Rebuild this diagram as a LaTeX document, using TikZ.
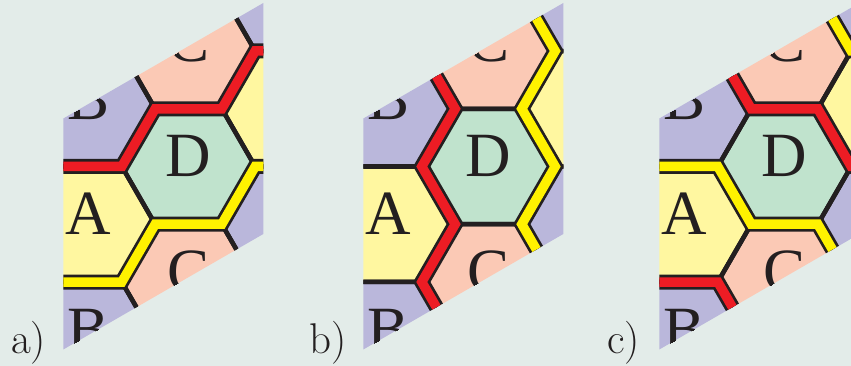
\documentclass[tikz,border=0pt]{standalone}
\usepackage{fontspec}
\newfontfamily\cellfont{Liberation Serif}
\usepackage{tikz}

\definecolor{bgcol}{HTML}{E3ECE9}
\definecolor{cellA}{HTML}{FFF7A0}
\definecolor{cellB}{HTML}{BAB7DB}
\definecolor{cellC}{HTML}{FBC9B5}
\definecolor{cellD}{HTML}{C0E3CD}
\definecolor{bandred}{HTML}{ED1C24}
\definecolor{bandyel}{HTML}{FFF200}
\definecolor{edgeblack}{HTML}{231F20}

\tikzset{
  hexedge/.style={draw=edgeblack, line width=4.5pt, line join=miter},
  cellname/.style={anchor=base, inner sep=0pt, text=edgeblack,
                   font=\cellfont\fontsize{63}{63}\selectfont},
  band/.style={draw=edgeblack, line width=2.75pt, double distance=9.5pt,
               line join=miter},
  tag/.style={anchor=base west, inner sep=0pt, text=edgeblack,
              font=\fontsize{43}{43}\selectfont}}

\newcommand{\hexr}{66.67}
% hexagon cells of one panel, coloured A/B/C/D by lattice parity
\newcommand{\hextiles}[1]{%
  \foreach \i in {-1,0,1}{%
    \foreach \j in {-2,...,2}{%
      \pgfmathsetmacro{\cx}{188.5+100*\i}%
      \pgfmathsetmacro{\cy}{166.5+115.47*\j+57.735*\i}%
      \pgfmathtruncatemacro{\cell}{2*mod(abs(\i),2)+mod(abs(\j),2)}%
      \edef\lbl{\ifcase\cell D\or C\or B\or A\fi}%
      \fill[cell\lbl] (\cx,\cy) +(0:\hexr) -- +(60:\hexr) -- +(120:\hexr)
        -- +(180:\hexr) -- +(240:\hexr) -- +(300:\hexr) -- cycle;
      \node[cellname] (#1\lbl\i\j) at (\cx,\cy+10.5) {\lbl};
    }}%
  \foreach \i in {-1,0,1}{%
    \foreach \j in {-2,...,2}{%
      \pgfmathsetmacro{\cx}{188.5+100*\i}%
      \pgfmathsetmacro{\cy}{166.5+115.47*\j+57.735*\i}%
      \draw[hexedge] (\cx,\cy) +(0:\hexr) -- +(60:\hexr) -- +(120:\hexr)
        -- +(180:\hexr) -- +(240:\hexr) -- +(300:\hexr) -- cycle;
    }}}
\newcommand{\rhombclip}{\clip (63.3,118.5) -- (263.3,3) -- (263.3,234) -- (63.3,349.5) -- cycle;}

\begin{document}
\begin{tikzpicture}[x=1pt, y=-1pt]
\useasboundingbox (0,0) rectangle (851,366);
\fill[bgcol] (0,0) rectangle (851,366);

% a)
\begin{scope}
  \rhombclip
  \hextiles{a}
  \draw[band, double=bandred] (21.8,224.2) -- (55.2,166.5) -- (121.8,166.5) -- (155.2,108.8)
    -- (221.8,108.8) -- (255.2,51) -- (321.8,51) -- (355.2,-6.7);
  \draw[band, double=bandyel] (21.8,339.7) -- (55.2,282) -- (121.8,282) -- (155.2,224.2)
    -- (221.8,224.2) -- (255.2,166.5) -- (321.8,166.5) -- (355.2,108.8);
\end{scope}

% b)
\begin{scope}[xshift=300pt]
  \rhombclip
  \hextiles{b}
  \draw[band, double=bandred] (155.2,-6.7) -- (121.8,51) -- (155.2,108.8) -- (121.8,166.5)
    -- (155.2,224.2) -- (121.8,282) -- (155.2,339.7) -- (121.8,397.4);
  \draw[band, double=bandyel] (221.8,-6.7) -- (255.2,51) -- (221.8,108.8) -- (255.2,166.5)
    -- (221.8,224.2) -- (255.2,282) -- (221.8,339.7);
\end{scope}

% c)
\begin{scope}[xshift=596pt]
  \rhombclip
  \hextiles{c}
  \draw[band, double=bandred] (21.8,-6.7) -- (55.2,51) -- (121.8,51) -- (155.2,108.8)
    -- (221.8,108.8) -- (255.2,166.5) -- (321.8,166.5);
  \draw[band, double=bandred] (21.8,224.2) -- (55.2,282) -- (121.8,282) -- (155.2,339.7)
    -- (221.8,339.7);
  \draw[band, double=bandyel] (21.8,108.8) -- (55.2,166.5) -- (121.8,166.5) -- (155.2,224.2)
    -- (221.8,224.2) -- (255.2,282) -- (321.8,282);
  \draw[band, double=bandyel] (155.2,-6.7) -- (221.8,-6.7) -- (255.2,51) -- (321.8,51);
\end{scope}

\node[tag] (taga) at (11,353) {a)};
\node[tag] (tagb) at (309,353) {b)};
\node[tag] (tagc) at (607,353) {c)};
\end{tikzpicture}
\end{document}
